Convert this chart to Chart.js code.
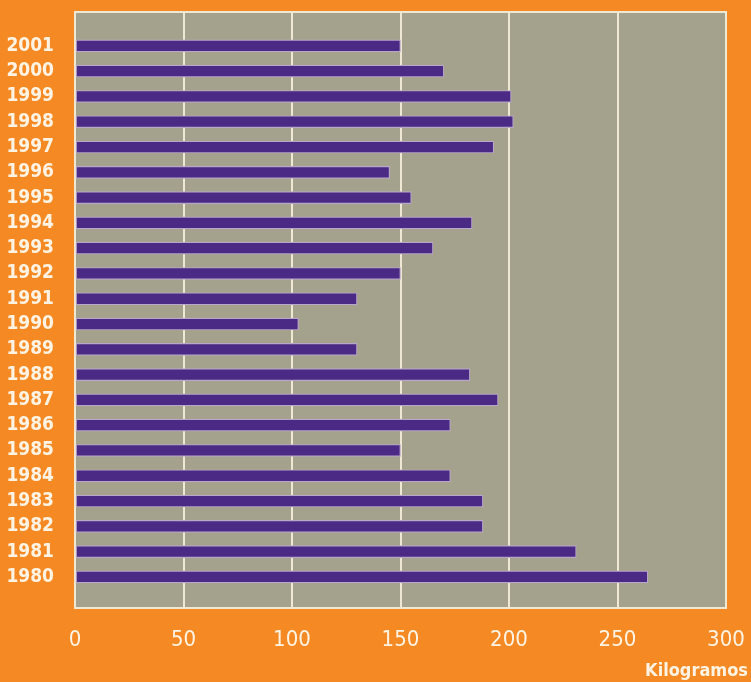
<!DOCTYPE html>
<html>
<head>
<meta charset="utf-8">
<script src="https://cdn.jsdelivr.net/npm/chart.js@4"></script>
<style>
    html, body { margin: 0; padding: 0; background: #f58a25; }
    #wrap { width: 751px; height: 682px; }
</style>
</head>
<body>
<div id="wrap"><canvas id="kgChart" width="751" height="682"></canvas></div>
<script>
const years = [2001, 2000, 1999, 1998, 1997, 1996, 1995, 1994, 1993, 1992, 1991,
    1990, 1989, 1988, 1987, 1986, 1985, 1984, 1983, 1982, 1981, 1980];
const kilos = [150, 170, 201, 202, 193, 145, 155, 183, 165, 150, 130,
    103, 130, 182, 195, 173, 150, 173, 188, 188, 231, 264];
const xTicks = [0, 50, 100, 150, 200, 250, 300];
const axisTitle = 'Kilogramos';

const labelColor = '#fff4e4';

// grey plot area + outline drawn under the bars
const plotBackground = {
    id: 'plotBackground',
    beforeDraw(chart) {
        const { ctx, chartArea: a } = chart;
        ctx.save();
        ctx.fillStyle = '#a4a28c';
        ctx.fillRect(a.left, a.top, a.right - a.left, a.bottom - a.top);
        ctx.strokeStyle = '#efe9d4';
        ctx.lineWidth = 2;
        ctx.strokeRect(a.left, a.top, a.right - a.left, a.bottom - a.top);
        ctx.restore();
    },
    afterDraw(chart) {
        const { ctx } = chart;
        ctx.save();
        ctx.fillStyle = labelColor;
        ctx.font = 'bold 18px "DejaVu Sans Condensed", "DejaVu Sans"';
        ctx.textAlign = 'right';
        ctx.textBaseline = 'middle';
        ctx.fillText(axisTitle, 748, 671);
        ctx.restore();
    },
};

new Chart(document.getElementById('kgChart'), {
    type: 'bar',
    data: {
        datasets: [{
            data: years.map((y, i) => ({ y: y, x: kilos[i] })),
            backgroundColor: '#4a2a84',
            borderColor: '#b9a6cb',
            borderWidth: 1.2,
            borderSkipped: false,
            barThickness: 12,
        }],
    },
    plugins: [plotBackground],
    options: {
        indexAxis: 'y',
        responsive: false,
        animation: false,
        layout: { padding: { top: 12, right: 25, left: 0, bottom: 0 } },
        plugins: { legend: { display: false }, tooltip: { enabled: false } },
        scales: {
            x: {
                type: 'linear',
                min: 0,
                max: 300,
                afterFit: (s) => {
                    s.height = 74;
                    s.paddingLeft = 0;
                    s.paddingRight = 0;
                },
                afterBuildTicks: (s) => { s.ticks = xTicks.map((v) => ({ value: v })); },
                border: { display: false },
                grid: {
                    color: (c) => (c.tick && (c.tick.value === 0 || c.tick.value === 300) ? 'rgba(0,0,0,0)' : '#efe9d4'),
                    lineWidth: 2,
                    drawTicks: false,
                },
                ticks: {
                    color: labelColor,
                    padding: 19,
                    font: { family: '"DejaVu Sans Condensed", "DejaVu Sans"', size: 22 },
                },
            },
            y: {
                type: 'linear',
                offset: false,
                min: 1978.77,
                max: 2002.34,
                afterFit: (s) => {
                    s.width = 75;
                    s.paddingTop = 0;
                    s.paddingBottom = 0;
                },
                afterBuildTicks: (s) => { s.ticks = years.map((v) => ({ value: v })); },
                border: { display: false },
                grid: { display: false },
                ticks: {
                    color: labelColor,
                    padding: 13,
                    callback: (v) => String(v),
                    font: { family: '"DejaVu Sans Condensed", "DejaVu Sans"', size: 19, weight: 'bold' },
                },
            },
        },
    },
});
</script>
</body>
</html>
